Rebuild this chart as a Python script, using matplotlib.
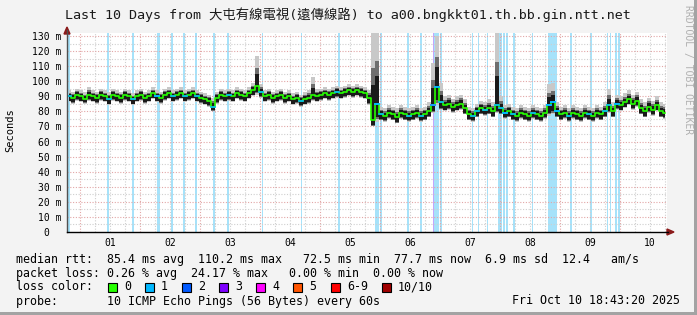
import matplotlib.pyplot as plt
import numpy as np
from matplotlib.patches import Rectangle, Polygon
from matplotlib.lines import Line2D

# - DATA - (time axis: days since Oct 1 00:00, one sample every 96 min)
t_start = -0.2199
t_end = 9.7801
step = 4 / 60.0

median = [90, 89, 91, 90, 88, 91, 90, 89, 91, 90, 88, 91, 90, 89, 91, 90, 88, 90, 91, 89,
          90, 92, 90, 89, 91, 92, 90, 91, 92, 90, 91, 92, 90, 89, 88, 87, 83, 89, 91, 90,
          91, 90, 92, 91, 90, 92, 94, 97, 93, 90, 91, 89, 90, 91, 89, 90, 88, 89, 87, 88,
          89, 91, 90, 91, 92, 91, 92, 93, 92, 93, 94, 93, 94, 93, 92, 89, 74, 85, 78, 77,
          79, 78, 76, 79, 78, 77, 78, 79, 77, 78, 80, 84, 96, 86, 84, 85, 83, 84, 85, 82,
          78, 77, 80, 82, 81, 82, 80, 84, 82, 79, 80, 78, 77, 79, 78, 77, 79, 78, 77, 79,
          84, 86, 80, 78, 79, 77, 79, 78, 77, 79, 78, 77, 79, 78, 80, 84, 80, 85, 84, 86,
          88, 85, 87, 82, 80, 83, 81, 84, 80, 79]

smoke_hi = [94, 93, 95, 94, 93, 96, 94, 93, 95, 94, 93, 95, 94, 93, 95, 94, 92, 94, 95, 93,
            94, 96, 94, 93, 95, 96, 94, 95, 96, 94, 95, 96, 94, 93, 92, 91, 89, 93, 95, 94,
            95, 94, 96, 95, 94, 96, 99, 117, 98, 94, 95, 93, 94, 95, 93, 94, 92, 93, 91, 93,
            94, 103, 95, 95, 96, 95, 96, 97, 96, 97, 98, 97, 98, 97, 96, 94, 132, 132, 83, 82,
            84, 83, 82, 84, 83, 82, 83, 84, 82, 83, 86, 112, 130, 99, 90, 91, 88, 90, 91, 88,
            83, 82, 85, 87, 86, 88, 86, 132, 90, 84, 85, 83, 82, 84, 83, 82, 84, 83, 82, 84,
            98, 99, 86, 83, 84, 82, 84, 83, 82, 84, 83, 82, 84, 83, 86, 95, 86, 91, 90, 92,
            94, 91, 93, 88, 86, 89, 87, 90, 86, 85]

smoke_lo = [86, 85, 87, 86, 85, 87, 86, 85, 87, 86, 84, 87, 86, 85, 87, 86, 84, 86, 87, 85,
            86, 88, 86, 85, 87, 88, 86, 87, 88, 86, 87, 88, 86, 85, 84, 83, 80, 85, 87, 86,
            87, 86, 88, 87, 86, 88, 90, 91, 89, 86, 87, 85, 86, 87, 85, 86, 84, 85, 83, 84,
            85, 87, 86, 87, 88, 87, 88, 89, 88, 89, 90, 89, 90, 89, 88, 84, 70, 73, 74, 73,
            75, 74, 72, 75, 74, 73, 74, 75, 73, 74, 76, 79, 84, 81, 80, 81, 79, 80, 81, 78,
            74, 73, 76, 78, 77, 78, 76, 79, 78, 75, 76, 74, 73, 75, 74, 73, 75, 74, 73, 75,
            77, 78, 76, 74, 75, 73, 75, 74, 73, 75, 74, 73, 75, 74, 76, 79, 76, 81, 80, 82,
            84, 81, 83, 78, 76, 79, 77, 80, 76, 75]

# packet loss events (day, lost pings out of 10)
loss_t = [-0.20, 0.45, 0.87, 1.28, 1.30, 1.52, 1.72, 1.92, 2.22, 2.45, 3.03, 3.68, 4.30,
          4.92, 4.95, 5.00, 5.45, 5.67, 5.88, 5.90, 5.92, 5.95, 6.00, 6.53, 6.63, 6.78,
          6.97, 7.00, 7.05, 7.10, 7.22, 7.53, 7.80, 7.82, 7.83, 7.85, 7.87, 7.88, 7.90,
          7.92, 7.93, 8.17, 8.50, 8.78, 8.83, 8.92, 8.97]
loss_n = [1, 1, 1, 1, 1, 1, 1, 1, 1, 1, 1, 1, 1,
          1, 1, 1, 1, 1, 3, 1, 1, 1, 1, 1, 1, 1,
          1, 1, 1, 1, 1, 1, 1, 1, 1, 1, 1, 1, 1,
          1, 1, 1, 1, 1, 1, 1, 1]

day_labels = ['01', '02', '03', '04', '05', '06', '07', '08', '09', '10']
loss_colors = ['#26ff00', '#00b8ff', '#0059ff', '#7e00ff', '#ff00ff', '#ff5500', '#ff0000', '#a00000']
loss_names = ['0', '1', '2', '3', '4', '5', '6-9', '10/10']
# - DATA -

mono = ['DejaVu Sans Mono', 'Noto Sans CJK TC']
W, H = 697, 315
fig = plt.figure(figsize=(W / 100, H / 100), dpi=100, facecolor='#f3f3f3')
ax = fig.add_axes([67 / W, 83 / H, 600 / W, 199 / H])
ax.set_facecolor('white')

t = t_start + step / 2 + step * np.arange(len(median))
med = np.array(median, float)
hi = np.array(smoke_hi, float)
lo = np.array(smoke_lo, float)

# loss bars
for lt, ln in zip(loss_t, loss_n):
    c = '#a6e2fa' if ln == 1 else '#c4a6fb'
    ax.axvspan(lt, lt + 1.5 / 60, color=c, lw=0, zorder=1)

# grid
for d in np.arange(-0.25, 10, 0.25):
    major = abs(d - round(d)) < 1e-6
    ax.axvline(d, color='#e2a6a6' if major else '#cfcfcf', lw=0.8,
               ls=(0, (1, 1.5)), zorder=2)
for v in range(5, 135, 5):
    ax.axhline(v, color='#e2a6a6' if v % 10 == 0 else '#cfcfcf', lw=0.8,
               ls=(0, (1, 1.5)), zorder=2)

# smoke
ax.fill_between(t, lo, hi, step='mid', color='#c8c8c8', lw=0, zorder=3)
ax.fill_between(t, med - (med - lo) * 0.85, med + (hi - med) * 0.6, step='mid',
                color='#6e6e6e', lw=0, zorder=3)
ax.fill_between(t, med - (med - lo) * 0.7, med + (hi - med) * 0.4, step='mid',
                color='#1a1a1a', lw=0, zorder=3)

# median
ax.step(t, med, where='mid', color=loss_colors[0], lw=1.2, zorder=4)
for lt, ln in zip(loss_t, loss_n):
    i = int(np.argmin(np.abs(t - lt)))
    ax.plot([t[i] - step / 2, t[i] + step / 2], [med[i], med[i]],
            color=loss_colors[min(ln, 7)], lw=1.2, zorder=5)

ax.set_xlim(t_start, t_end)
ax.set_ylim(0, 132)
for s in ax.spines.values():
    s.set_visible(False)
ax.set_xticks(np.arange(0.5, 10, 1))
ax.set_xticklabels(day_labels, family=mono, fontsize=7)
yt = list(range(0, 131, 10))
ax.set_yticks(yt)
ax.set_yticklabels(['0  '] + ['%d m' % v for v in yt[1:]], family=mono, fontsize=7)
ax.tick_params(length=0, pad=4)

# axes lines and arrows
fig.add_artist(Line2D([67 / W, 67 / W], [83 / H, 285 / H], color='#505050', lw=1))
fig.add_artist(Line2D([67 / W, 668 / W], [83 / H, 83 / H], color='black', lw=1))
fig.add_artist(Polygon([[64 / W, 281 / H], [70 / W, 281 / H], [67 / W, 288 / H]],
                       closed=True, color='#8b1a1a'))
fig.add_artist(Polygon([[667 / W, 80 / H], [667 / W, 86 / H], [674 / W, 83 / H]],
                       closed=True, color='#8b1a1a'))

# frame shading
fig.add_artist(Rectangle((0, 0), 1, 3 / H, color='#a3a3a3', lw=0))
fig.add_artist(Rectangle((694 / W, 0), 3 / W, 1, color='#a3a3a3', lw=0))

fig.text(348 / W, 1 - 15 / H,
         'Last 10 Days from 大屯有線電視(遠傳線路) to a00.bngkkt01.th.bb.gin.ntt.net',
         ha='center', va='center', family=mono, fontsize=9.6, color='#1a1a1a')
fig.text(10 / W, 1 - 130 / H, 'Seconds', rotation=90, ha='center', va='center',
         family=mono, fontsize=7.5)
fig.text(688 / W, 1 - 5 / H, 'RRDTOOL / TOBI OETIKER', rotation=270, ha='center',
         va='top', family='DejaVu Sans Mono', fontsize=7, color='#b0b0b0')

lf = 8.35
fig.text(16 / W, 1 - 259 / H,
         'median rtt:  85.4 ms avg  110.2 ms max   72.5 ms min  77.7 ms now  6.9 ms sd  12.4   am/s',
         va='center', family=mono, fontsize=lf)
fig.text(16 / W, 1 - 273 / H,
         'packet loss: 0.26 % avg  24.17 % max   0.00 % min  0.00 % now',
         va='center', family=mono, fontsize=lf)
fig.text(16 / W, 1 - 287 / H, 'loss color:', va='center', family=mono, fontsize=lf)
sq_x = [108, 145, 182, 219, 256, 293, 331, 382]
for x, c, n in zip(sq_x, loss_colors, loss_names):
    fig.add_artist(Rectangle((x / W, (H - 292) / H), 9 / W, 9 / H, facecolor=c,
                             edgecolor='black', lw=0.8))
    fig.text((x + 16) / W, 1 - 287 / H, n, va='center', family=mono, fontsize=lf)
fig.text(16 / W, 1 - 301 / H, 'probe:       10 ICMP Echo Pings (56 Bytes) every 60s',
         va='center', family=mono, fontsize=lf)
fig.text(680 / W, 1 - 301 / H, 'Fri Oct 10 18:43:20 2025', ha='right', va='center',
         family=mono, fontsize=lf)

fig.savefig('out.png', dpi=100, facecolor=fig.get_facecolor())
